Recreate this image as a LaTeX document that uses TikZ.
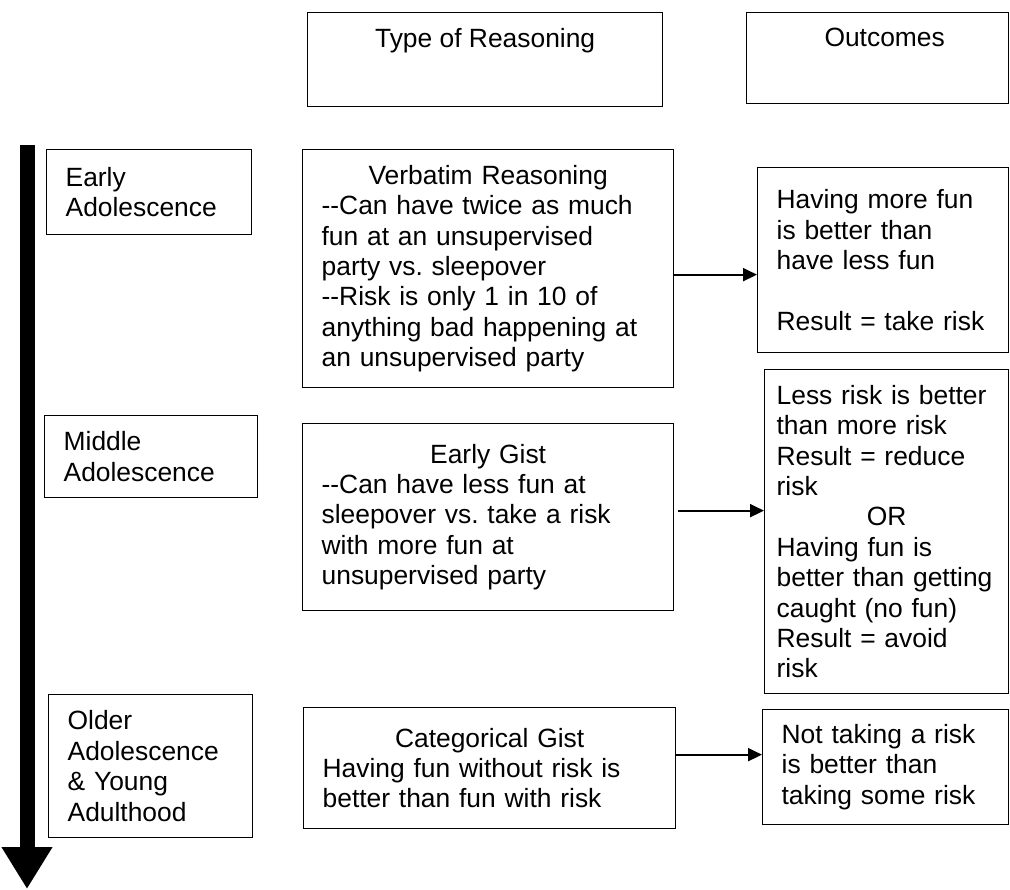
\documentclass[tikz,border=0pt]{standalone}
\usepackage{fontspec}
\setmainfont{Liberation Sans}
\usetikzlibrary{arrows.meta,positioning}
\setlength{\parindent}{0pt}
\frenchspacing
\hyphenpenalty=10000
\exhyphenpenalty=10000

\begin{document}
\begin{tikzpicture}[x=1pt, y=-1pt,
  every node/.style={font=\fontsize{26.4}{30.4}\selectfont},
  box/.style={draw, line width=1.3pt, anchor=north west, align=left, inner xsep=19pt, inner ysep=0pt},
  title/.style={inner sep=0pt},
  link/.style={line width=2pt, -{Triangle[length=14pt,width=13pt]}}]
\useasboundingbox (0,0) rectangle (1010,890);

% column headers
\node[box, minimum width=355pt, minimum height=94pt] (typebox) at (307,12) {};
\node[title, below=16pt of typebox.north] (typelabel) {Type of Reasoning};
\node[box, minimum width=262pt, minimum height=91pt] (outhdr) at (746,12) {};
\node[title, below=16pt of outhdr.north, xshift=7pt] (outlabel) {Outcomes};

% development arrow
\coordinate (agestart) at (27,145);
\coordinate (ageend) at (27,889);
\draw[line width=15pt, -{Triangle[length=42pt,width=48pt]}] (agestart) -- (ageend);

% stages
\node[box, text width=167pt, minimum height=85pt] (early) at (46,149) {Early\\Adolescence};
\node[box, text width=175pt, minimum height=82pt] (middle) at (44,415) {Middle\\Adolescence};
\node[box, text width=166pt, minimum height=143pt] (older) at (48,694) {Older\\Adolescence\\\& Young\\Adulthood};

% reasoning
\node[box, text width=333pt, minimum height=238pt] (verbatim) at (302,149)
  {\makebox[\hsize]{Verbatim Reasoning}\\-{}-Can have twice as much\\fun at an unsupervised\\party vs. sleepover\\-{}-Risk is only 1 in 10 of\\anything bad happening at\\an unsupervised party};
\node[box, text width=333pt, minimum height=187pt] (earlygist) at (302,423)
  {\makebox[\hsize]{Early Gist}\\-{}-Can have less fun at\\sleepover vs. take a risk\\with more fun at\\unsupervised party};
\node[box, text width=334pt, minimum height=121pt] (catgist) at (303,707)
  {\makebox[\hsize]{Categorical Gist}\\Having fun without risk is\\better than fun with risk};

% outcomes
\node[box, text width=213pt, minimum height=185pt] (outfun) at (757,167)
  {Having more fun\\is better than\\have less fun\\[30.4pt]Result = take risk};
\node[box, inner xsep=12pt, text width=220pt, minimum height=324pt] (outmid) at (764,369)
  {Less risk is better\\than more risk\\Result = reduce\\risk\\\makebox[\hsize]{OR}\\Having fun is\\better than getting\\caught (no fun)\\Result = avoid\\risk};
\node[box, text width=208pt, minimum height=115pt] (outsafe) at (762,709)
  {Not taking a risk\\is better than\\taking some risk};

\draw[link] ([yshift=-6pt]verbatim.east) -- ([yshift=-6pt]verbatim.east -| outfun.west);
\draw[link] ([xshift=4pt, yshift=6.5pt]earlygist.east) -- ([yshift=6.5pt]earlygist.east -| outmid.west);
\draw[link] ([yshift=13.5pt]catgist.east) -- ([yshift=13.5pt]catgist.east -| outsafe.west);
\end{tikzpicture}
\end{document}
